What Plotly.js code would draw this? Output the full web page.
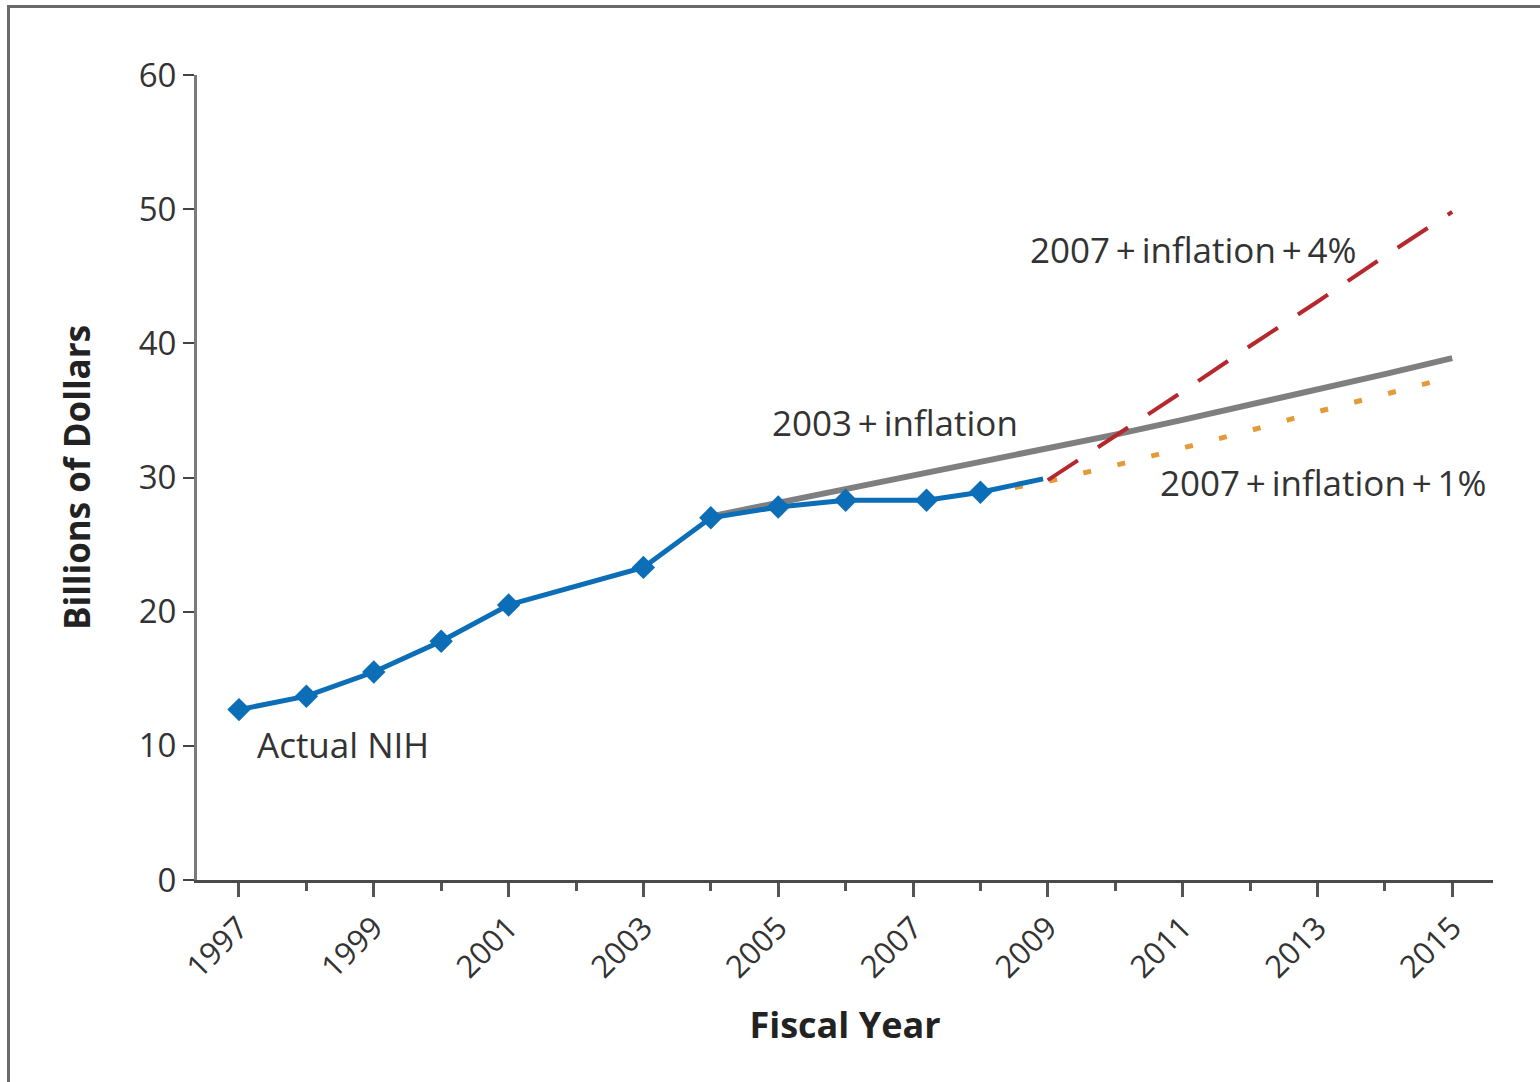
<!DOCTYPE html>
<html>
<head>
<meta charset="utf-8">
<script src="https://cdn.plot.ly/plotly-3.0.1.min.js"></script>
<style>
  html, body { margin: 0; padding: 0; background: #fff; }
  #frame { position: absolute; left: 7px; top: 5px; width: 1540px; height: 1090px;
           border-left: 3px solid #6a6a6a; border-top: 3px solid #6a6a6a; box-sizing: border-box; pointer-events: none; z-index: 5; }
  #chart { position: absolute; left: 0; top: 0; width: 1540px; height: 1082px; }
</style>
</head>
<body>
<div id="chart"></div>
<div id="frame"></div>
<script>
// Actual NIH budget (billions of dollars)
const actualYears = [1997, 1998, 1999, 2000, 2001, 2003, 2004, 2005, 2006, 2007.2, 2008, 2008.93];
const actualValues = [12.7, 13.7, 15.5, 17.8, 20.5, 23.3, 27.0, 27.8, 28.3, 28.3, 28.9, 29.9];
const actualMarkerYears = [1997, 1998, 1999, 2000, 2001, 2003, 2004, 2005, 2006, 2007.2, 2008];
const actualMarkerValues = [12.7, 13.7, 15.5, 17.8, 20.5, 23.3, 27.0, 27.8, 28.3, 28.3, 28.9];

// 2003 + inflation projection
const infl2003Years = [2004, 2005, 2006, 2007, 2008, 2009, 2010, 2011, 2012, 2013, 2014, 2015];
const infl2003Values = [27.1, 28.1, 29.1, 30.1, 31.1, 32.1, 33.2, 34.3, 35.4, 36.5, 37.7, 38.9];

// 2007 + inflation + 4% projection
const plus4Years = [2009, 2010, 2011, 2012, 2013, 2014, 2015];
const plus4Values = [29.8, 33.1, 36.4, 39.8, 43.1, 46.5, 49.8];

// 2007 + inflation + 1% projection
const plus1Years = [2008, 2009, 2010, 2011, 2012, 2013, 2014, 2015];
const plus1Values = [28.8, 29.7, 30.9, 32.2, 33.5, 34.9, 36.2, 37.5];

const yTicks = [0, 10, 20, 30, 40, 50, 60];
const xTicks = [1997, 1999, 2001, 2003, 2005, 2007, 2009, 2011, 2013, 2015];
const xTickText = ['1997', '1999', '2001', '2003', '2005', '2007', '2009', '2011', '2013', '2015'];

const labels = [
  {text: 'Actual NIH', x: 1997.24, y: 10.1},
  {text: '2003\u2009+\u2009inflation', x: 2004.88, y: 34.1},
  {text: '2007\u2009+\u2009inflation\u2009+\u20094%', x: 2008.71, y: 47.0},
  {text: '2007\u2009+\u2009inflation\u2009+\u20091%', x: 2010.63, y: 29.6}
];

const FONT = '"Open Sans", "Noto Sans", sans-serif';

const traces = [
  {x: infl2003Years, y: infl2003Values, mode: 'lines', line: {color: '#7f7f7f', width: 6}, hoverinfo: 'skip'},
  {x: plus1Years, y: plus1Values, mode: 'lines', line: {color: '#e39b3a', width: 5, dash: '8px,27px'}, hoverinfo: 'skip'},
  {x: plus4Years, y: plus4Values, mode: 'lines', line: {color: '#b5282e', width: 4, dash: '36px,24px'}, hoverinfo: 'skip'},
  {x: actualYears, y: actualValues, mode: 'lines', line: {color: '#0b6eb7', width: 5}, hoverinfo: 'skip'},
  {x: actualMarkerYears, y: actualMarkerValues, mode: 'markers', marker: {symbol: 'diamond', size: 18, color: '#0b6eb7'}, hoverinfo: 'skip'}
];

const layout = {
  width: 1540, height: 1082,
  margin: {l: 197, r: 47, t: 75, b: 202},
  paper_bgcolor: '#ffffff', plot_bgcolor: '#ffffff',
  showlegend: false,
  font: {family: FONT, color: '#333', size: 30},
  xaxis: {
    range: [1996.377, 2015.605],
    tickmode: 'array', tickvals: xTicks, ticktext: xTickText,
    tickangle: -45,
    ticks: 'outside', ticklen: 14, tickwidth: 3, tickcolor: '#555',
    minor: {dtick: 1, tick0: 1997, ticks: 'outside', ticklen: 8, tickwidth: 3, tickcolor: '#555'},
    showline: true, linecolor: '#4a4a4a', linewidth: 3,
    showgrid: false, zeroline: false,
    tickfont: {family: FONT, size: 31, color: '#333'},
    title: {text: '<b>Fiscal Year</b>', font: {family: FONT, size: 36, color: '#222'}, standoff: 28}
  },
  yaxis: {
    range: [0, 60],
    tickmode: 'array', tickvals: yTicks,
    ticks: 'outside', ticklen: 11, tickwidth: 2, tickcolor: '#444',
    showline: true, linecolor: '#7a7a7a', linewidth: 3,
    showgrid: false, zeroline: false,
    tickfont: {family: FONT, size: 33, color: '#333'},
    title: {text: '<b>Billions of Dollars</b>', font: {family: FONT, size: 35, color: '#222'}, standoff: 38}
  },
  annotations: labels.map(l => ({
    text: l.text, x: l.x, y: l.y, xref: 'x', yref: 'y',
    xanchor: 'left', yanchor: 'middle', showarrow: false,
    font: {family: FONT, size: 35, color: '#333'}
  }))
};

Plotly.newPlot('chart', traces, layout, {displayModeBar: false, staticPlot: true});
</script>
</body>
</html>
